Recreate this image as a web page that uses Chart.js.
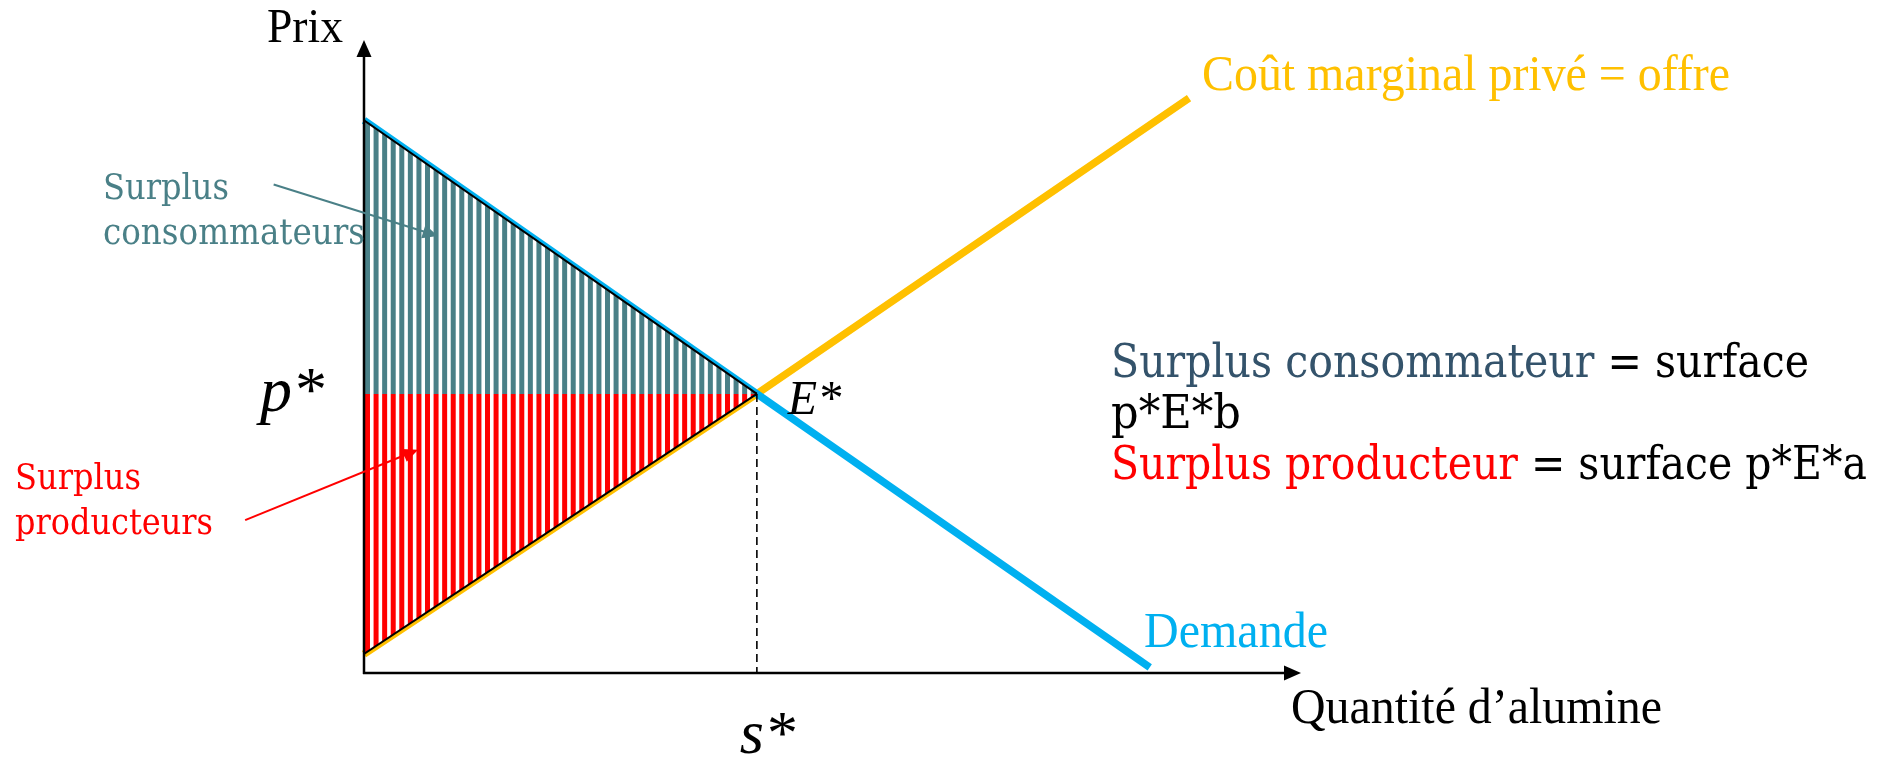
<!DOCTYPE html>
<html>
<head>
<meta charset="utf-8">
<script src="https://cdn.jsdelivr.net/npm/chart.js@4.4.1/dist/chart.umd.min.js"></script>
<style>
  html, body { margin: 0; padding: 0; background: #fff; overflow: hidden; }
  #wrap { width: 1889px; height: 758px; position: relative; }
</style>
</head>
<body>
<div id="wrap"><canvas id="chart"></canvas></div>
<script>
// values (quantity, price)
const demandQty = [0, 4, 8];
const demandPrice = [9.9, 5, 0.1];
const supplyQty = [0, 4, 8.4];
const supplyPrice = [0.34, 5, 10.3];
const sStar = 4;
const pStar = 5;
const xMax = 9.54;
const yMax = 11.34;

// pointer arrows for the two surplus labels, in data units
const consumerArrow = [[-0.92, 8.75], [0.75, 7.83]];
const producerArrow = [[-1.21, 2.74], [0.55, 4.0]];

const BLUE = '#00b0f0';
const ORANGE = '#ffc000';
const TEAL = '#4a8087';
const RED = '#ff0000';
const SLATE = '#34536b';

const pts = (xs, ys) => xs.map((x, i) => ({ x: x, y: ys[i] }));

function stripes(color) {
    const c = document.createElement('canvas');
    c.width = 60; c.height = 10;
    const g = c.getContext('2d');
    g.fillStyle = '#fff';
    g.fillRect(0, 0, 60, 10);
    g.fillStyle = color;
    for (let i = 0; i < 7; i++) g.fillRect(i * 60 / 7, 0, 5, 10);
    return g.createPattern(c, 'repeat');
}
const tealHatch = stripes(TEAL);
const redHatch = stripes(RED);

function arrowHead(ctx, x1, y1, x2, y2, len, half) {
    const a = Math.atan2(y2 - y1, x2 - x1);
    ctx.beginPath();
    ctx.moveTo(x2, y2);
    ctx.lineTo(x2 - len * Math.cos(a) + half * Math.sin(a), y2 - len * Math.sin(a) - half * Math.cos(a));
    ctx.lineTo(x2 - len * Math.cos(a) - half * Math.sin(a), y2 - len * Math.sin(a) + half * Math.cos(a));
    ctx.closePath();
    ctx.fill();
}

// draw coloured text runs squeezed to a given width
function fitText(ctx, parts, x, y, width, font) {
    ctx.font = font;
    const natural = ctx.measureText(parts.map(p => p[0]).join('')).width;
    ctx.save();
    ctx.translate(x, y);
    ctx.scale(width / natural, 1);
    let cx = 0;
    parts.forEach(([t, c]) => {
        ctx.fillStyle = c;
        ctx.fillText(t, cx, 0);
        cx += ctx.measureText(t).width;
    });
    ctx.restore();
}

const decorations = {
    id: 'decorations',
    afterLayout(chart) {
        const m = new DOMMatrix().translate(chart.chartArea.left + 1, 0);
        tealHatch.setTransform(m);
        redHatch.setTransform(m);
    },
    afterDatasetsDraw(chart) {
        const ctx = chart.ctx;
        const xs = chart.scales.x, ys = chart.scales.y;
        const X = v => xs.getPixelForValue(v), Y = v => ys.getPixelForValue(v);
        const ox = X(0), oy = Y(0);
        ctx.save();
        ctx.textBaseline = 'alphabetic';

        // axes with arrow heads
        ctx.strokeStyle = '#000';
        ctx.fillStyle = '#000';
        ctx.lineWidth = 2.5;
        ctx.beginPath();
        ctx.moveTo(ox, oy + 1);
        ctx.lineTo(ox, Y(yMax) + 12);
        ctx.moveTo(ox - 1, oy);
        ctx.lineTo(X(xMax) - 12, oy);
        ctx.stroke();
        arrowHead(ctx, ox, oy, ox, Y(yMax), 17, 7.5);
        arrowHead(ctx, ox, oy, X(xMax), oy, 17, 7.5);

        // label pointers
        ctx.lineWidth = 2;
        [[consumerArrow, TEAL], [producerArrow, RED]].forEach(([a, col]) => {
            const x1 = X(a[0][0]), y1 = Y(a[0][1]), x2 = X(a[1][0]), y2 = Y(a[1][1]);
            const ang = Math.atan2(y2 - y1, x2 - x1);
            ctx.strokeStyle = col;
            ctx.fillStyle = col;
            ctx.beginPath();
            ctx.moveTo(x1, y1);
            ctx.lineTo(x2 - 8 * Math.cos(ang), y2 - 8 * Math.sin(ang));
            ctx.stroke();
            arrowHead(ctx, x1, y1, x2, y2, 15, 7);
        });

        const times = "'Liberation Serif', 'Times New Roman', serif";
        const serif = "'DejaVu Serif', Georgia, serif";

        fitText(ctx, [['Prix', '#000']], 267, 42, 76, '48px ' + times);
        fitText(ctx, [['Coût marginal privé = offre', ORANGE]], 1202, 90, 528, '50px ' + times);
        fitText(ctx, [['Demande', BLUE]], 1144, 647, 184, '50px ' + times);
        fitText(ctx, [['Quantité d’alumine', '#000']], 1291, 723, 371, '50px ' + times);

        ctx.fillStyle = '#000';
        ctx.font = 'italic 64px ' + times;
        ctx.textAlign = 'right';
        ctx.fillText('p*', ox - 40, Y(pStar) + 17);
        ctx.textAlign = 'left';
        ctx.font = 'italic 48px ' + times;
        ctx.fillText('E*', X(sStar) + 31, Y(pStar) + 20);
        ctx.font = 'italic 62px ' + times;
        ctx.fillText('s*', X(sStar) - 17, 753);

        fitText(ctx, [['Surplus', TEAL]], 103, 199, 126, '35px ' + serif);
        fitText(ctx, [['consommateurs', TEAL]], 103, 244, 262, '35px ' + serif);
        fitText(ctx, [['Surplus', RED]], 15, 489, 126, '35px ' + serif);
        fitText(ctx, [['producteurs', RED]], 15, 534, 198, '35px ' + serif);

        fitText(ctx, [['Surplus consommateur', SLATE], [' = surface', '#000']], 1111, 377, 698, '46px ' + serif);
        fitText(ctx, [['p*E*b', '#000']], 1111, 428, 130, '46px ' + serif);
        fitText(ctx, [['Surplus producteur', RED], [' = surface p*E*a', '#000']], 1111, 479, 756, '46px ' + serif);
        ctx.restore();
    }
};

new Chart(document.getElementById('chart'), {
    type: 'scatter',
    data: {
        datasets: [
            {   // consumer surplus triangle
                data: pts(demandQty.slice(0, 2), demandPrice.slice(0, 2)),
                showLine: true, borderColor: '#000', borderWidth: 2,
                backgroundColor: tealHatch, fill: { value: pStar }, pointRadius: 0
            },
            {   // producer surplus triangle
                data: pts(supplyQty.slice(0, 2), supplyPrice.slice(0, 2)),
                showLine: true, borderColor: '#000', borderWidth: 2,
                backgroundColor: redHatch, fill: { value: pStar }, pointRadius: 0
            },
            {   // equilibrium price line
                data: pts([0, sStar], [pStar, pStar]),
                showLine: true, borderColor: '#000', borderWidth: 3, pointRadius: 0
            },
            {   // equilibrium quantity
                data: pts([sStar, sStar], [pStar, 0]),
                showLine: true, borderColor: '#000', borderWidth: 1.6, borderDash: [8, 5], pointRadius: 0
            },
            {
                label: 'Demande',
                data: pts(demandQty, demandPrice),
                showLine: true, borderColor: BLUE, borderWidth: 7.5, pointRadius: 0, clip: false
            },
            {
                label: 'Coût marginal privé = offre',
                data: pts(supplyQty, supplyPrice),
                showLine: true, borderColor: ORANGE, borderWidth: 7.5, pointRadius: 0, clip: false
            }
        ]
    },
    options: {
        responsive: true,
        maintainAspectRatio: false,
        animation: false,
        layout: { padding: { left: 364, right: 588, top: 40, bottom: 85 } },
        scales: {
            x: { type: 'linear', min: 0, max: xMax, display: false },
            y: { type: 'linear', min: 0, max: yMax, display: false }
        },
        plugins: {
            legend: { display: false },
            tooltip: { enabled: false }
        }
    },
    plugins: [decorations]
});
</script>
</body>
</html>
